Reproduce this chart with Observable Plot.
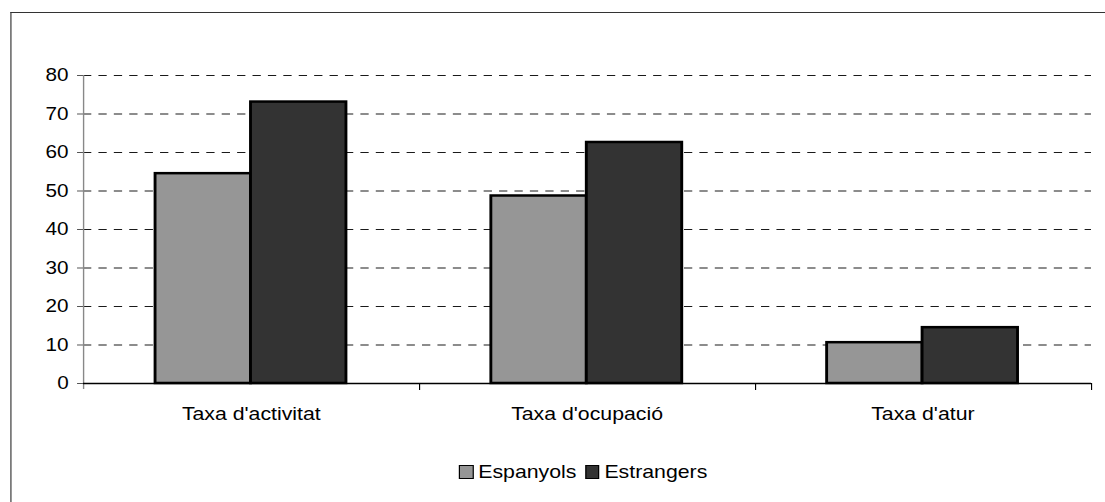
<!DOCTYPE html>
<html>
<head>
<meta charset="utf-8">
<script src="https://cdn.jsdelivr.net/npm/d3@7"></script>
<script src="https://cdn.jsdelivr.net/npm/@observablehq/plot@0.6"></script>
<style>
  html, body { margin: 0; padding: 0; background: #fff; overflow: hidden; width: 1105px; height: 502px; }
  #wrap { position: absolute; left: 0; top: 0; transform-origin: 0 0; font-family: "Liberation Sans", Arial, sans-serif; }
  #wrap > svg { position: absolute; left: 0; top: 0; }
  #frame { position: absolute; box-sizing: border-box; border-left: 1.7px solid #333; border-top: 1.5px solid #333; }
  #legend { position: absolute; display: flex; align-items: center; font-size: 18.5px; color: #000; white-space: nowrap; }
  #legend .sw { display: inline-block; box-sizing: border-box; border: 1.5px solid #000; height: 14px; }
</style>
</head>
<body>
<div id="wrap"><div id="frame"></div></div>
<script>
// ---- data ----
const categories = ["Taxa d'activitat", "Taxa d'ocupació", "Taxa d'atur"];
const series = ["Espanyols", "Estrangers"];
const espanyols = [54.5, 48.7, 10.6];
const estrangers = [73.1, 62.6, 14.5];
const yTicks = [0, 10, 20, 30, 40, 50, 60, 70, 80];
const colors = ["#969696", "#333333"];

// ---- layout (source chart is horizontally stretched) ----
const S = 1.15;
const W = 1105 / S, H = 502;
const mL = 83 / S, mR = (1105 - 1091) / S, mT = 75, mB = 502 - 383;
const FONT = '"Liberation Sans", Arial, sans-serif';

const wrap = document.getElementById("wrap");
wrap.style.width = W + "px";
wrap.style.height = H + "px";
wrap.style.transform = `scaleX(${S})`;

const frame = document.getElementById("frame");
frame.style.left = (10 / S) + "px";
frame.style.top = "12px";
frame.style.width = (W + 200) + "px";
frame.style.height = (H + 200) + "px";

const rows = [];
categories.forEach((c, i) => {
  rows.push({category: c, series: series[0], value: espanyols[i]});
  rows.push({category: c, series: series[1], value: estrangers[i]});
});

const common = {
  width: W, height: H,
  marginLeft: mL, marginRight: mR, marginTop: mT, marginBottom: mB,
  style: {background: "transparent", fontSize: "18px", fontFamily: FONT, color: "#000", overflow: "visible"}
};

// Grid, y axis, baseline and category boundary ticks
const axes = Plot.plot({
  ...common,
  x: {type: "linear", domain: [0, categories.length]},
  y: {domain: [0, 80]},
  marks: [
    Plot.ruleY(yTicks.filter(d => d > 0), {stroke: "#1a1a1a", strokeWidth: 1, strokeDasharray: "7.2,6.2"}),
    Plot.axisY(yTicks, {tickSize: 5.2, tickPadding: 7.8, stroke: "#555", label: null}),
    Plot.ruleX([0], {stroke: "#888", strokeWidth: 1.2, insetBottom: -6}),
    Plot.axisX(d3.range(1, categories.length + 1), {tickSize: 7, tickFormat: () => "", stroke: "#000", label: null}),
    Plot.ruleY([0], {stroke: "#000", strokeWidth: 1.6})
  ]
});
wrap.appendChild(axes);

// Bars, faceted by category
const bars = Plot.plot({
  ...common,
  style: {...common.style, fontSize: "18.5px"},
  fx: {domain: categories, padding: 0, axis: "bottom", tickSize: 0, tickPadding: 23, label: null},
  x: {domain: series, paddingInner: 0, paddingOuter: 0.75, axis: null},
  y: {domain: [0, 80], axis: null},
  color: {domain: series, range: colors},
  marks: [
    Plot.barY(rows, {fx: "category", x: "series", y: "value", fill: "series", stroke: "#000", strokeWidth: 2.5})
  ]
});
wrap.appendChild(bars);

// Legend
const legend = document.createElement("div");
legend.id = "legend";
legend.style.left = (459.3 / S) + "px";
legend.style.top = "463px";
legend.style.height = "18px";
series.forEach((s, i) => {
  const sw = document.createElement("span");
  sw.className = "sw";
  sw.style.width = (14 / S) + "px";
  sw.style.background = colors[i];
  if (i > 0) sw.style.marginLeft = (9 / S) + "px";
  const t = document.createElement("span");
  t.textContent = s;
  t.style.marginLeft = (5 / S) + "px";
  legend.appendChild(sw);
  legend.appendChild(t);
});
wrap.appendChild(legend);
</script>
</body>
</html>
